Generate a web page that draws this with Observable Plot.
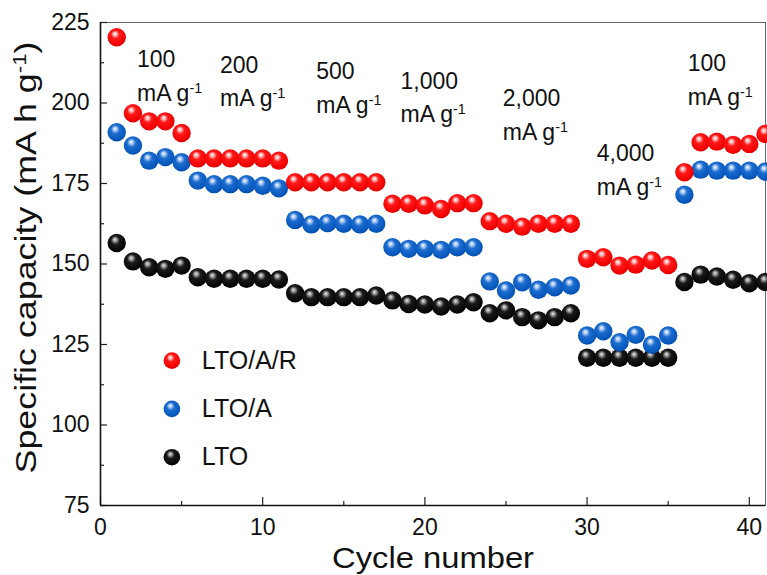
<!DOCTYPE html>
<html><head><meta charset="utf-8">
<script src="https://cdn.jsdelivr.net/npm/d3@7"></script>
<script src="https://cdn.jsdelivr.net/npm/@observablehq/plot@0.6"></script>
<style>body{margin:0;background:#fff}</style>
</head><body><div id="chart"></div>
<script>
// ---- data ----
const cycles = [1,2,3,4,5,6,7,8,9,10,11,12,13,14,15,16,17,18,19,20,21,22,23,24,25,26,27,28,29,30,31,32,33,34,35,36,37,38,39,40,41];
const ltoAR = [220.4,196.8,194.3,194.3,190.7, 182.8,182.8,182.8,182.8,182.8,182.1, 175.4,175.4,175.4,175.4,175.4,175.4, 168.7,168.7,168.2,167.1,168.9,168.9, 163.3,162.5,161.6,162.5,162.5,162.5, 151.6,152.1,149.5,149.8,151.1,149.7, 178.5,187.8,188.0,187.0,187.3,190.4];
const ltoA = [190.9,186.8,182.1,183.2,181.6, 175.9,174.8,174.8,174.8,174.3,173.5, 163.7,162.3,162.7,162.5,162.3,162.5, 155.2,154.7,154.7,154.4,155.2,155.2, 144.6,141.8,144.3,142.0,142.8,143.3, 127.8,129.1,125.7,128.0,124.9,127.8, 171.5,179.3,179.0,179.0,179.0,178.7];
const lto = [156.5,150.8,149.0,148.5,149.5, 145.9,145.4,145.4,145.4,145.4,145.2, 140.9,139.7,139.7,139.7,139.7,140.2, 138.7,137.6,137.4,136.8,137.4,138.1, 134.7,135.6,133.5,132.5,133.5,134.7, 120.9,120.9,120.9,120.9,120.9,120.9, 144.4,146.7,146.1,145.1,144.0,144.4];
const seriesNames = ["LTO/A/R", "LTO/A", "LTO"];
const rateLabels = ["100\nmA g^-1", "200\nmA g^-1", "500\nmA g^-1", "1,000\nmA g^-1", "2,000\nmA g^-1", "4,000\nmA g^-1", "100\nmA g^-1"];
const rateLabelX = [2.25, 7.37, 13.3, 18.5, 24.8, 30.6, 36.2];
const rateLabelY = [218.5, 216.9, 214.8, 211.9, 206.5, 189.4, 217.3];
const xMajor = [0, 10, 20, 30, 40];
const xMinor = [5, 15, 25, 35];
const yMajor = [75, 100, 125, 150, 175, 200, 225];
const yMinor = [87.5, 112.5, 137.5, 162.5, 187.5, 212.5];
const xTitle = "Cycle number";
const yTitle = "Specific capacity (mA h g^-1)";

// ---- styles ----
const grads = {
  gR: [["0", "#ffffff"], ["0.16", "#ffb4b4"], ["0.36", "#ff1a1a"], ["0.85", "#f00000"], ["1", "#c80000"]],
  gB: [["0", "#ffffff"], ["0.16", "#a9c8f0"], ["0.38", "#1d6dd0"], ["0.85", "#0656bb"], ["1", "#003f95"]],
  gK: [["0", "#f0f0f0"], ["0.16", "#9a9a9a"], ["0.38", "#1a1a1a"], ["0.85", "#050505"], ["1", "#000000"]]
};
const series = [
  {name: seriesNames[2], values: lto, grad: "gK"},
  {name: seriesNames[1], values: ltoA, grad: "gB"},
  {name: seriesNames[0], values: ltoAR, grad: "gR"}
];
const legendOrder = [
  {name: seriesNames[0], grad: "gR"},
  {name: seriesNames[1], grad: "gB"},
  {name: seriesNames[2], grad: "gK"}
];
const font = "'Liberation Sans', Arial, sans-serif";

const marks = [
  Plot.frame({stroke: "#666", strokeWidth: 1}),
  Plot.axisX(xMinor, {tickSize: -4, tickFormat: () => "", label: null, stroke: "#222", strokeWidth: 1.2}),
  Plot.axisX(xMajor, {tickSize: -8, tickPadding: 21, fontSize: 23, label: null, stroke: "#222", strokeWidth: 1.2}),
  Plot.axisY(yMinor, {tickSize: -4, tickFormat: () => "", label: null, stroke: "#222", strokeWidth: 1.2}),
  Plot.axisY(yMajor, {tickSize: -7, tickPadding: 18, fontSize: 23, label: null, stroke: "#222", strokeWidth: 1.2}),
  Plot.ruleX([0], {stroke: "#111", strokeWidth: 1.6}),
  Plot.ruleY([75], {stroke: "#111", strokeWidth: 1.6}),
  ...series.map(s => Plot.dot(s.values, {x: cycles, y: d => d, r: 9.2, fill: `url(#${s.grad})`})),
  ...legendOrder.map((s, i) => Plot.dot([s.name], {x: () => 4.4, y: () => 120 - 15 * i, r: 8.3, fill: `url(#${s.grad})`})),
  Plot.text(legendOrder, {x: () => 6.25, y: (d, i) => 120 - 15 * i, text: d => d.name, textAnchor: "start", fontSize: 25, fill: "#111"}),
  Plot.text(rateLabels, {x: rateLabelX, y: rateLabelY, text: d => d, textAnchor: "start", lineAnchor: "top", lineHeight: 1.47, fontSize: 23, fill: "#111"}),
  Plot.text([xTitle], {frameAnchor: "bottom", dy: 62, lineAnchor: "bottom", fontSize: 29, fill: "#111"}),
  Plot.text([yTitle], {frameAnchor: "bottom-left", dx: -65, dy: -32, rotate: -90, textAnchor: "start", lineAnchor: "bottom", fontSize: 29, fill: "#111"})
];

const chart = Plot.plot({
  width: 767, height: 575,
  marginLeft: 100, marginRight: 2, marginTop: 22, marginBottom: 70,
  x: {domain: [0, 41]},
  y: {domain: [75, 225]},
  style: {fontFamily: font, color: "#111", background: "white"},
  marks
});

// gradients
const svg = d3.select(chart);
const defs = svg.insert("defs", ":first-child");
for (const [id, stops] of Object.entries(grads)) {
  const g = defs.append("radialGradient").attr("id", id)
    .attr("cx", "0.46").attr("cy", "0.42").attr("r", "0.62").attr("fx", "0.4").attr("fy", "0.3");
  for (const [o, c] of stops) g.append("stop").attr("offset", o).attr("stop-color", c);
}

// superscripts
const NS = "http://www.w3.org/2000/svg";
function supify(el) {
  const txt = el.textContent;
  const i = txt.indexOf("^-1");
  if (i < 0) return;
  const before = txt.slice(0, i), after = txt.slice(i + 3);
  el.textContent = before;
  const s = document.createElementNS(NS, "tspan");
  s.setAttribute("baseline-shift", "super");
  s.setAttribute("font-size", "62%");
  s.textContent = "-1";
  el.appendChild(s);
  if (after) {
    const a = document.createElementNS(NS, "tspan");
    a.textContent = after;
    el.appendChild(a);
  }
}
chart.querySelectorAll("text").forEach(t => {
  const tspans = t.querySelectorAll("tspan");
  if (tspans.length) tspans.forEach(supify); else supify(t);
});
chart.querySelectorAll("text").forEach(t => {
  if (t.textContent === xTitle) { t.setAttribute("textLength", 202); t.setAttribute("lengthAdjust", "spacingAndGlyphs"); }
  if (t.textContent === "Specific capacity (mA h g-1)") { t.setAttribute("textLength", 432); t.setAttribute("lengthAdjust", "spacingAndGlyphs"); }
});

document.getElementById("chart").appendChild(chart);
</script>
</body></html>
